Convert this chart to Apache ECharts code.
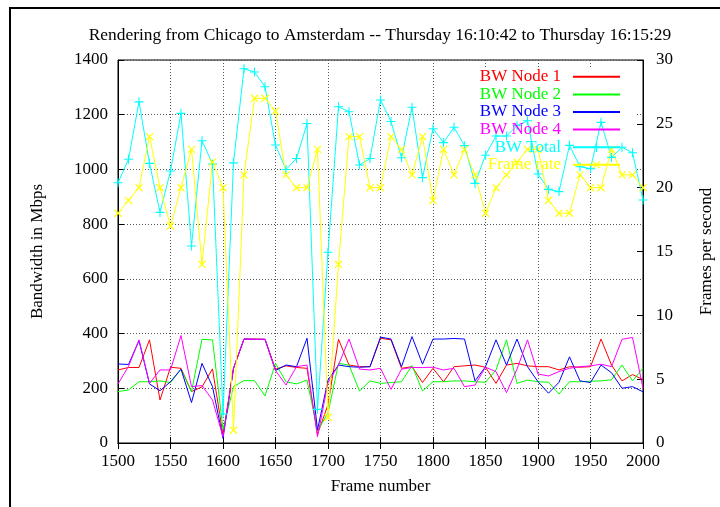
<!DOCTYPE html>
<html>
<head>
<meta charset="utf-8">
<script src="https://cdn.jsdelivr.net/npm/echarts@6/dist/echarts.min.js"></script>
<style>
  html, body { margin: 0; padding: 0; background: #fff; }
  #main { width: 720px; height: 507px; }
</style>
</head>
<body>
<div id="main"></div>
<script>
// frame numbers (x axis)
var frames = [1500, 1510, 1520, 1530, 1540, 1550, 1560, 1570, 1580, 1590,
  1600, 1610, 1620, 1630, 1640, 1650, 1660, 1670, 1680, 1690,
  1700, 1710, 1720, 1730, 1740, 1750, 1760, 1770, 1780, 1790,
  1800, 1810, 1820, 1830, 1840, 1850, 1860, 1870, 1880, 1890,
  1900, 1910, 1920, 1930, 1940, 1950, 1960, 1970, 1980, 1990, 2000];

// bandwidth per node, Mbps
var node1 = [267, 276, 276, 377, 157, 277, 273, 188, 205, 271,
  29, 273, 380, 380, 379, 270, 282, 276, 273, 32,
  140, 379, 285, 279, 279, 383, 377, 273, 279, 221,
  273, 224, 279, 282, 285, 277, 218, 285, 291, 282,
  279, 279, 267, 279, 277, 279, 380, 285, 227, 250, 232];
var node2 = [188, 194, 224, 224, 227, 221, 270, 188, 379, 377,
  50, 206, 228, 228, 172, 291, 224, 216, 230, 45,
  110, 291, 285, 190, 227, 218, 221, 224, 283, 190,
  224, 224, 227, 227, 224, 222, 267, 377, 218, 230,
  224, 222, 179, 224, 224, 226, 227, 231, 285, 227, 274];
var node3 = [289, 287, 374, 216, 191, 224, 270, 148, 291, 206,
  17, 273, 380, 379, 379, 265, 285, 279, 383, 48,
  230, 285, 279, 277, 279, 387, 380, 279, 389, 288,
  380, 380, 382, 380, 227, 279, 377, 285, 380, 279,
  224, 182, 222, 315, 227, 221, 285, 257, 200, 206, 187];
var node4 = [216, 280, 377, 218, 267, 267, 393, 206, 210, 157,
  23, 273, 380, 379, 379, 265, 212, 279, 285, 23,
  220, 285, 380, 270, 267, 273, 196, 270, 276, 276,
  277, 267, 273, 206, 212, 277, 261, 184, 270, 377,
  252, 245, 261, 273, 279, 282, 288, 279, 379, 386, 200];
var bwTotal = [951, 1037, 1247, 1022, 843, 994, 1205, 720, 1105, 1020,
  106, 1024, 1368, 1356, 1302, 1089, 1000, 1040, 1168, 123,
  697, 1229, 1211, 1016, 1040, 1254, 1175, 1043, 1227, 970,
  1149, 1098, 1154, 1087, 949, 1052, 1122, 1122, 1160, 1178,
  983, 927, 919, 1088, 1010, 1003, 1172, 1044, 1081, 1061, 888];
// frames per second (right axis)
var frameRate = [18, 19, 20, 24, 20, 17, 20, 23, 14, 22,
  20, 1, 21, 27, 27, 26, 21, 20, 20, 23,
  2, 14, 24, 24, 20, 20, 24, 23, 21, 24,
  19, 23, 21, 23, 21, 18, 20, 21, 22, 23,
  23, 19, 18, 18, 21, 20, 20, 23, 21, 21, 20];

var seriesNames = ['BW Node 1', 'BW Node 2', 'BW Node 3', 'BW Node 4', 'BW Total', 'Frame rate'];
var seriesColors = ['#ff0000', '#00ff00', '#0000ff', '#ff00ff', '#00ffff', '#ffff00'];

var titleText = 'Rendering from Chicago to Amsterdam -- Thursday 16:10:42 to Thursday 16:15:29';
var FONT = 'Liberation Serif';
var FS = 17;
var plusPath = 'path://M0,4.4 L10,4.4 L10,5.6 L0,5.6 Z M4.4,0 L5.6,0 L5.6,10 L4.4,10 Z';

function pairs(vals) {
  return frames.map(function (f, i) { return [f, vals[i]]; });
}

function mkLine(idx, vals, extra) {
  var s = {
    name: seriesNames[idx],
    type: 'line',
    data: pairs(vals),
    color: seriesColors[idx],
    showSymbol: false,
    symbol: 'none',
    animation: false,
    lineStyle: { width: 1, color: seriesColors[idx] }
  };
  if (extra) {
    for (var k in extra) s[k] = extra[k];
  }
  return s;
}

var chart = echarts.init(document.getElementById('main'));

var labelStyle = { fontFamily: FONT, fontSize: FS, color: '#000' };
var gridLine = { show: true, lineStyle: { color: '#555', type: [1, 2], width: 1 } };
// plain numbers, no thousands separator
var plain = function (v) { return String(v); };

chart.setOption({
  animation: false,
  backgroundColor: '#fff',
  textStyle: { fontFamily: FONT },
  grid: { left: 118, right: 77, top: 60, bottom: 64, show: true, borderColor: '#000', borderWidth: 1,
    outerBoundsMode: 'none', containLabel: false },
  legend: {
    orient: 'vertical',
    align: 'right',
    right: 94,
    top: 63,
    itemWidth: 47,
    itemHeight: 12,
    itemGap: 0,
    textStyle: { fontFamily: FONT, fontSize: FS, lineHeight: 17.6, padding: [0, 7, 0, 0] },
    data: seriesNames.map(function (n, i) {
      var d = { name: n, textStyle: { color: seriesColors[i] } };
      if (i < 4) d.itemStyle = { opacity: 0 };
      return d;
    })
  },
  graphic: [
    { type: 'rect', silent: true, shape: { x: 10, y: 8, width: 800, height: 600 },
      style: { fill: 'none', stroke: '#000', lineWidth: 2 } },
    { type: 'rect', silent: true, z: 1, shape: { x: 456, y: 67, width: 180, height: 104 },
      style: { fill: '#fff' } },
    { type: 'text', x: 380, y: 35,
      style: { text: titleText, font: '17.4px "Liberation Serif"', fill: '#000', textAlign: 'center', textVerticalAlign: 'middle' } }
  ],
  xAxis: [{
    type: 'value', min: 1500, max: 2000, interval: 50,
    name: 'Frame number', nameLocation: 'middle', nameGap: 35,
    nameTextStyle: labelStyle,
    axisLine: { show: true, lineStyle: { color: '#000' } },
    axisTick: { show: true, inside: true, length: 6, lineStyle: { color: '#000' } },
    axisLabel: { margin: 10, fontFamily: FONT, fontSize: FS, color: '#000', formatter: plain },
    splitLine: gridLine
  }, {
    type: 'value', min: 1500, max: 2000, interval: 50, position: 'top',
    axisLine: { show: true, lineStyle: { color: '#000' } },
    axisTick: { show: true, inside: true, length: 6, lineStyle: { color: '#000' } },
    axisLabel: { show: false },
    splitLine: { show: false }
  }],
  yAxis: [{
    type: 'value', min: 0, max: 1400, interval: 200,
    name: 'Bandwidth in Mbps', nameLocation: 'middle', nameGap: 72, nameRotate: 90,
    nameTextStyle: labelStyle,
    axisLine: { show: true, lineStyle: { color: '#000' } },
    axisTick: { show: true, inside: true, length: 6, lineStyle: { color: '#000' } },
    axisLabel: { margin: 10, fontFamily: FONT, fontSize: FS, color: '#000', formatter: plain },
    splitLine: gridLine
  }, {
    type: 'value', min: 0, max: 30, interval: 5, position: 'right',
    name: 'Frames per second', nameLocation: 'middle', nameGap: 55, nameRotate: 90,
    nameTextStyle: labelStyle,
    axisLine: { show: true, lineStyle: { color: '#000' } },
    axisTick: { show: true, inside: true, length: 6, lineStyle: { color: '#000' } },
    axisLabel: { margin: 13, fontFamily: FONT, fontSize: FS, color: '#000', formatter: plain },
    splitLine: { show: false }
  }],
  series: [
    mkLine(0, node1),
    mkLine(1, node2),
    mkLine(2, node3),
    mkLine(3, node4),
    mkLine(4, bwTotal, { symbol: plusPath, showSymbol: true, symbolSize: 9 }),
    mkLine(5, frameRate, { yAxisIndex: 1, symbol: plusPath, showSymbol: true, symbolSize: 10, symbolRotate: 45 })
  ]
});
</script>
</body>
</html>
